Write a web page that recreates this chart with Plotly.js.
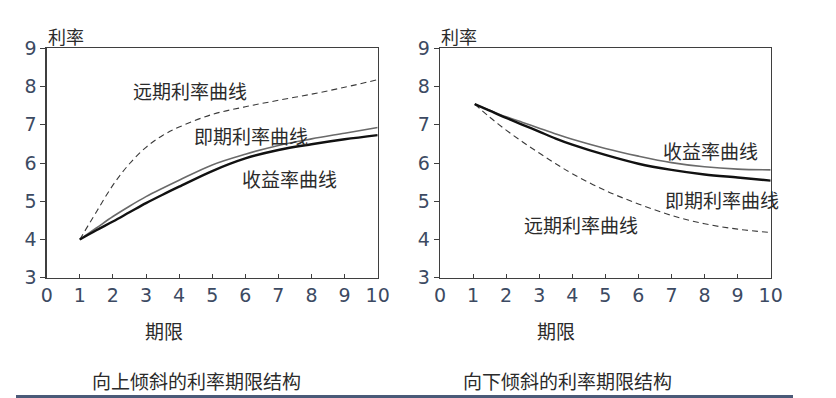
<!DOCTYPE html>
<html>
<head>
<meta charset="utf-8">
<script src="https://cdn.plot.ly/plotly-3.0.1.min.js"></script>
<style>html,body{margin:0;padding:0;background:#fff;}#chart{width:836px;height:398px;}</style>
</head>
<body>
<div id="chart"></div>
<script>
// ---- data ----
const maturity = [1, 1.5, 2, 2.5, 3, 3.5, 4, 5, 6, 7, 8, 9, 10];
// upward-sloping panel
const upForward = [4.0, 4.72, 5.42, 5.98, 6.41, 6.72, 6.94, 7.27, 7.47, 7.64, 7.8, 7.98, 8.18];
const upSpot    = [4.0, 4.3, 4.6, 4.87, 5.12, 5.34, 5.55, 5.95, 6.23, 6.46, 6.63, 6.78, 6.93];
const upYield   = [4.0, 4.24, 4.47, 4.71, 4.95, 5.17, 5.38, 5.79, 6.12, 6.34, 6.49, 6.62, 6.73];
// downward-sloping panel
const maturityDown = [1.05, 1.5, 2, 2.5, 3, 3.5, 4, 5, 6, 7, 8, 9, 10];
const downForward = [7.54, 7.2, 6.86, 6.55, 6.26, 5.98, 5.72, 5.28, 4.93, 4.63, 4.41, 4.27, 4.18];
const downYield   = [7.54, 7.38, 7.21, 7.06, 6.91, 6.76, 6.62, 6.38, 6.18, 6.01, 5.9, 5.84, 5.82];
const downSpot    = [7.54, 7.37, 7.18, 7.0, 6.82, 6.64, 6.48, 6.21, 5.98, 5.82, 5.70, 5.62, 5.54];

const xTicks = [0,1,2,3,4,5,6,7,8,9,10];
const yTicks = [3,4,5,6,7,8,9];

const labelForward = '远期利率曲线';
const labelSpot = '即期利率曲线';
const labelYield = '收益率曲线';
const yTitle = '利率';
const xTitle = '期限';
const captionUp = '向上倾斜的利率期限结构';
const captionDown = '向下倾斜的利率期限结构';

// ---- styles ----
const W = 836, H = 398;
const px = x => x / W;
const py = y => 1 - y / H;
const cjk = '"Noto Sans CJK SC", "Noto Sans", sans-serif';
const textColor = '#2b2b2b';
const dashStyle = {color: '#3a3a3a', width: 1.1, dash: '6px,4px', shape: 'spline', smoothing: 1};
const grayStyle = {color: '#6a6a6a', width: 1.6, shape: 'spline', smoothing: 1};
const blackStyle = {color: '#111111', width: 2.4, shape: 'spline', smoothing: 1};

const traces = [
  {x: maturity, y: upForward, xaxis: 'x', yaxis: 'y', mode: 'lines', line: dashStyle, name: labelForward},
  {x: maturity, y: upSpot, xaxis: 'x', yaxis: 'y', mode: 'lines', line: grayStyle, name: labelSpot},
  {x: maturity, y: upYield, xaxis: 'x', yaxis: 'y', mode: 'lines', line: blackStyle, name: labelYield},
  {x: maturityDown, y: downForward, xaxis: 'x2', yaxis: 'y2', mode: 'lines', line: dashStyle, name: labelForward},
  {x: maturityDown, y: downYield, xaxis: 'x2', yaxis: 'y2', mode: 'lines', line: grayStyle, name: labelYield},
  {x: maturityDown, y: downSpot, xaxis: 'x2', yaxis: 'y2', mode: 'lines', line: blackStyle, name: labelSpot}
];

const tickFont = {family: 'DejaVu Sans', size: 19, color: '#3c4a62'};
function xAxis(domain, anchor) {
  return {domain: domain, anchor: anchor, range: [0, 10], tickmode: 'array', tickvals: xTicks, ticktext: xTicks.map(String),
    showgrid: false, zeroline: false, showline: true, mirror: true, linecolor: '#3f3f3f', linewidth: 1.3,
    ticks: 'inside', ticklen: 4, tickcolor: '#3f3f3f', tickfont: tickFont, automargin: false, fixedrange: true};
}
function yAxis(domain, anchor) {
  return {domain: domain, anchor: anchor, range: [3, 9], tickmode: 'array', tickvals: yTicks, ticktext: yTicks.map(String),
    showgrid: false, zeroline: false, showline: true, mirror: true, linecolor: '#3f3f3f', linewidth: 1.3,
    ticks: 'outside', ticklen: 5, tickcolor: '#3f3f3f', tickfont: tickFont, automargin: false, fixedrange: true};
}
const yDom = [py(277.7), py(48.3)];

function ann(text, x, y, size) {
  return {text: text, x: px(x), y: py(y), xref: 'paper', yref: 'paper', showarrow: false,
    xanchor: 'center', yanchor: 'middle', font: {family: cjk, size: size || 19, color: textColor}};
}

const layout = {
  width: W, height: H, margin: {l: 0, r: 0, t: 0, b: 0}, paper_bgcolor: '#fff', plot_bgcolor: '#fff',
  showlegend: false,
  font: {family: 'DejaVu Sans', size: 19, color: '#3c4a62'},
  xaxis: xAxis([px(46.7), px(377.7)], 'y'),
  yaxis: yAxis(yDom, 'x'),
  xaxis2: xAxis([px(440), px(770.7)], 'y2'),
  yaxis2: yAxis(yDom, 'x2'),
  annotations: [
    ann(yTitle, 66, 36, 18), ann(yTitle, 459, 36, 18),
    ann(labelForward, 190, 91), ann(labelSpot, 251, 136), ann(labelYield, 289, 178),
    ann(labelYield, 710, 150), ann(labelSpot, 722, 199), ann(labelForward, 581, 225),
    ann(xTitle, 164, 330), ann(xTitle, 556, 330),
    ann(captionUp, 196, 380), ann(captionDown, 567, 380)
  ],
  shapes: [
    {type: 'line', xref: 'paper', yref: 'paper', x0: px(16), x1: px(793), y0: py(396.5), y1: py(396.5),
     line: {color: '#4a5a78', width: 3}}
  ]
};

Plotly.newPlot('chart', traces, layout, {displayModeBar: false, staticPlot: true});
</script>
</body>
</html>
